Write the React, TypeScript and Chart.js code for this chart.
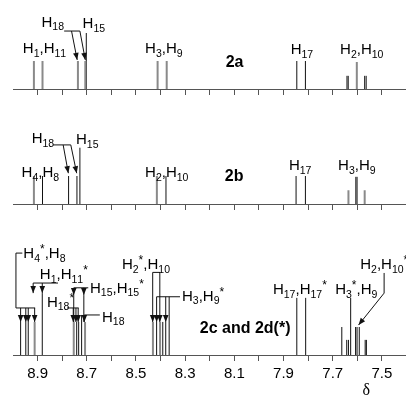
import React, { useEffect, useRef } from 'react';
import { Chart, registerables } from 'chart.js';

Chart.register(...registerables);

// ---- axis ----
const X_MIN = 7.402;
const X_MAX = 9.0;
const TICK_VALUES = [8.9, 8.8, 8.7, 8.6, 8.5, 8.4, 8.3, 8.2, 8.1, 8.0, 7.9, 7.8, 7.7, 7.6, 7.5];
const TICK_LABELS = ['8.9', '8.7', '8.5', '8.3', '8.1', '7.9', '7.7', '7.5'];
const AXIS_TITLE = 'δ';

// ---- spectrum 2a ----
const A_BLACK_PPM = [8.702, 7.846, 7.811, 7.642, 7.637, 7.570, 7.564];
const A_BLACK_INT = [2.0, 1.0, 1.0, 0.47, 0.47, 0.47, 0.47];
const A_GREY_PPM = [8.915, 8.880, 8.736, 8.706, 8.412, 8.375, 7.602];
const A_GREY_INT = [1.0, 1.0, 1.0, 1.0, 1.0, 1.0, 0.96];

// ---- spectrum 2b ----
const B_BLACK_PPM = [8.880, 8.774, 8.740, 8.728, 8.378, 7.849, 7.811, 7.606, 7.601];
const B_BLACK_INT = [1.0, 1.0, 1.0, 2.01, 1.0, 1.0, 1.0, 0.97, 0.97];
const B_GREY_PPM = [8.915, 8.415, 7.636, 7.570];
const B_GREY_INT = [1.0, 1.0, 0.49, 0.49];

// ---- spectrum 2c and 2d(*) ----
const C_BLACK_PPM = [8.969, 8.948, 8.938, 8.881, 8.741, 8.733, 8.721, 8.416, 8.391, 8.379, 8.365,
  7.846, 7.810, 7.663, 7.643, 7.636, 7.627, 7.607, 7.601, 7.592, 7.568, 7.563];
const C_BLACK_INT = [1.18, 1.18, 1.18, 2.21, 1.18, 1.18, 1.43, 1.18, 1.18, 1.18, 2.08,
  2.04, 2.04, 1.0, 0.54, 0.54, 2.04, 1.0, 1.0, 1.0, 0.54, 0.54];
const C_GREY_PPM = [8.912, 8.753, 8.707, 8.431, 8.402];
const C_GREY_INT = [1.18, 1.18, 1.18, 1.18, 1.18];

// ---- annotations (x in ppm, y in intensity units) ----
type Txt = { x: number; y: number; t: string; bold?: boolean; center?: boolean };
type Notes = { texts: Txt[]; lines: number[][]; arrows: number[][] };

const NOTES_A: Notes = {
  texts: [
    { x: 8.960, y: 1.27, t: 'H1,H11' },
    { x: 8.884, y: 2.23, t: 'H18' },
    { x: 8.717, y: 2.17, t: 'H15' },
    { x: 8.463, y: 1.27, t: 'H3,H9' },
    { x: 7.871, y: 1.25, t: 'H17' },
    { x: 7.670, y: 1.25, t: 'H2,H10' },
    { x: 8.099, y: 0.79, t: '2a', bold: true, center: true },
  ],
  lines: [[8.792, 2.07, 8.728, 2.07]],
  arrows: [[8.762, 2.07, 8.739, 1.04], [8.728, 2.07, 8.706, 1.04]],
};

const NOTES_B: Notes = {
  texts: [
    { x: 8.965, y: 0.95, t: 'H4,H8' },
    { x: 8.924, y: 2.17, t: 'H18' },
    { x: 8.744, y: 2.14, t: 'H15' },
    { x: 8.463, y: 0.95, t: 'H2,H10' },
    { x: 7.878, y: 1.21, t: 'H17' },
    { x: 7.678, y: 1.21, t: 'H3,H9' },
    { x: 8.101, y: 0.82, t: '2b', bold: true, center: true },
  ],
  lines: [[8.837, 2.11, 8.765, 2.11]],
  arrows: [[8.796, 2.11, 8.775, 1.10], [8.765, 2.11, 8.741, 1.10]],
};

const NOTES_C: Notes = {
  texts: [
    { x: 8.958, y: 3.46, t: 'H4*,H8' },
    { x: 8.891, y: 2.70, t: 'H1,H11*' },
    { x: 8.687, y: 2.23, t: 'H15,H15*' },
    { x: 8.862, y: 1.73, t: 'H18*' },
    { x: 8.638, y: 1.19, t: 'H18' },
    { x: 8.557, y: 3.07, t: 'H2*,H10' },
    { x: 8.313, y: 1.93, t: 'H3,H9*' },
    { x: 7.943, y: 2.17, t: 'H17,H17*' },
    { x: 7.690, y: 2.17, t: 'H3*,H9' },
    { x: 7.588, y: 3.06, t: 'H2,H10*' },
    { x: 8.056, y: 0.80, t: '2c and 2d(*)', bold: true, center: true },
  ],
  lines: [
    [8.988, 3.64, 8.962, 3.64],
    [8.988, 3.64, 8.988, 1.68],
    [8.988, 1.68, 8.910, 1.68],
    [8.918, 2.57, 8.817, 2.57],
    [8.753, 2.40, 8.694, 2.40],
    [8.753, 2.14, 8.753, 1.18],
    [8.712, 2.14, 8.712, 1.18],
    [8.780, 1.68, 8.733, 1.68],
    [8.647, 1.43, 8.710, 1.43],
    [8.432, 2.95, 8.403, 2.95],
    [8.416, 2.08, 8.321, 2.08],
    [7.491, 2.93, 7.491, 2.21],
  ],
  arrows: [
    [8.969, 1.68, 8.969, 1.18],
    [8.948, 1.68, 8.948, 1.18],
    [8.938, 1.68, 8.938, 1.18],
    [8.912, 1.68, 8.912, 1.18],
    [8.918, 2.57, 8.918, 2.21],
    [8.881, 2.57, 8.881, 2.21],
    [8.753, 2.40, 8.753, 2.14],
    [8.712, 2.40, 8.712, 2.14],
    [8.755, 1.68, 8.755, 1.18],
    [8.744, 1.68, 8.744, 1.18],
    [8.735, 1.68, 8.735, 1.18],
    [8.710, 1.43, 8.710, 1.18],
    [8.432, 2.95, 8.432, 1.18],
    [8.403, 2.95, 8.403, 1.18],
    [8.416, 2.08, 8.416, 1.18],
    [8.379, 2.08, 8.379, 1.18],
    [7.491, 2.21, 7.595, 1.07],
  ],
};

const SANS = '"Liberation Sans", Arial, sans-serif';

function segmentsOf(t: string) {
  const segs: { s: string; k: 'n' | 'sub' | 'sup' }[] = [];
  let inSub = false;
  for (const c of t) {
    if (c === 'H') { segs.push({ s: c, k: 'n' }); inSub = true; }
    else if (/\d/.test(c) && inSub) segs.push({ s: c, k: 'sub' });
    else if (c === '*') { segs.push({ s: c, k: 'sup' }); inSub = false; }
    else { segs.push({ s: c, k: 'n' }); inSub = false; }
  }
  return segs;
}

function drawRich(ctx: CanvasRenderingContext2D, t: string, x0: number, y0: number) {
  let x = x0;
  ctx.textAlign = 'left';
  ctx.textBaseline = 'alphabetic';
  for (const seg of segmentsOf(t)) {
    let dy = 0;
    if (seg.k === 'n') ctx.font = `15px ${SANS}`;
    else if (seg.k === 'sub') { ctx.font = `10.5px ${SANS}`; dy = 3.5; }
    else { ctx.font = `12px ${SANS}`; dy = -5; }
    ctx.fillText(seg.s, x, y0 + dy);
    x += ctx.measureText(seg.s).width;
  }
}

function notesPlugin(notes: Notes, withDelta: boolean) {
  return {
    id: 'notes',
    afterDraw(chart: any) {
      const { ctx } = chart;
      const sx = chart.scales.x;
      const sy = chart.scales.y;
      const px = (v: number) => sx.getPixelForValue(v);
      const py = (v: number) => sy.getPixelForValue(v);
      ctx.save();
      ctx.strokeStyle = '#111';
      ctx.fillStyle = '#111';
      ctx.lineWidth = 1;
      for (const l of notes.lines) {
        ctx.beginPath();
        ctx.moveTo(px(l[0]), py(l[1]));
        ctx.lineTo(px(l[2]), py(l[3]));
        ctx.stroke();
      }
      for (const a of notes.arrows) {
        const x1 = px(a[0]), y1 = py(a[1]), x2 = px(a[2]), y2 = py(a[3]);
        ctx.beginPath();
        ctx.moveTo(x1, y1);
        ctx.lineTo(x2, y2);
        ctx.stroke();
        const ang = Math.atan2(y2 - y1, x2 - x1);
        const L = 7, W = 2.8;
        const bx = x2 - L * Math.cos(ang), by = y2 - L * Math.sin(ang);
        ctx.beginPath();
        ctx.moveTo(x2, y2);
        ctx.lineTo(bx + W * Math.sin(ang), by - W * Math.cos(ang));
        ctx.lineTo(bx - W * Math.sin(ang), by + W * Math.cos(ang));
        ctx.closePath();
        ctx.fill();
      }
      ctx.fillStyle = '#000';
      for (const t of notes.texts) {
        if (t.bold) {
          ctx.font = `bold 16px ${SANS}`;
          ctx.textAlign = t.center ? 'center' : 'left';
          ctx.textBaseline = 'alphabetic';
          ctx.fillText(t.t, px(t.x), py(t.y));
        } else {
          drawRich(ctx, t.t, px(t.x), py(t.y));
        }
      }
      if (withDelta) {
        ctx.font = `16px "Liberation Serif", "Times New Roman", serif`;
        ctx.textAlign = 'center';
        ctx.textBaseline = 'alphabetic';
        ctx.fillText(AXIS_TITLE, px(7.564), py(-1.43));
      }
      ctx.restore();
    },
  };
}

function toSeries(ppm: number[], inten: number[]) {
  const out: { x: number; y: number | null }[] = [];
  ppm.forEach((p, i) => {
    out.push({ x: p, y: 0 }, { x: p, y: inten[i] }, { x: p, y: null });
  });
  return out;
}

type PanelCfg = {
  top: number; height: number; axisH: number; yMax: number;
  black: [number[], number[]]; grey: [number[], number[]];
  notes: Notes; labels: boolean;
};

const PANELS: PanelCfg[] = [
  { top: 0, height: 100, axisH: 11, yMax: 89 / 28, black: [A_BLACK_PPM, A_BLACK_INT], grey: [A_GREY_PPM, A_GREY_INT], notes: NOTES_A, labels: false },
  { top: 100, height: 115, axisH: 11, yMax: 104 / 28, black: [B_BLACK_PPM, B_BLACK_INT], grey: [B_GREY_PPM, B_GREY_INT], notes: NOTES_B, labels: false },
  { top: 215, height: 186, axisH: 46, yMax: 140 / 28, black: [C_BLACK_PPM, C_BLACK_INT], grey: [C_GREY_PPM, C_GREY_INT], notes: NOTES_C, labels: true },
];

function Panel({ cfg }: { cfg: PanelCfg }) {
  const ref = useRef<HTMLCanvasElement | null>(null);
  useEffect(() => {
    if (!ref.current) return;
    const chart = new Chart(ref.current, {
      type: 'line',
      data: {
        datasets: [
          {
            data: toSeries(cfg.grey[0], cfg.grey[1]) as any,
            borderColor: '#8a8a8a', borderWidth: 2, pointRadius: 0, spanGaps: false, fill: false,
          },
          {
            data: toSeries(cfg.black[0], cfg.black[1]) as any,
            borderColor: '#111', borderWidth: 1, pointRadius: 0, spanGaps: false, fill: false,
          },
        ],
      },
      options: {
        animation: false,
        responsive: false,
        devicePixelRatio: 1,
        layout: { padding: { left: 13, right: 0, top: 0, bottom: 0 } },
        plugins: { legend: { display: false }, tooltip: { enabled: false } },
        scales: {
          x: {
            type: 'linear',
            min: X_MIN,
            max: X_MAX,
            reverse: true,
            afterBuildTicks: (axis: any) => { axis.ticks = TICK_VALUES.map((v) => ({ value: v })); },
            afterFit: (axis: any) => { axis.height = cfg.axisH; },
            ticks: {
              display: cfg.labels,
              autoSkip: false,
              maxRotation: 0,
              padding: 4,
              color: '#000',
              font: { family: SANS, size: 15 },
              callback: (v: any) => {
                const s = Number(v).toFixed(1);
                return TICK_LABELS.includes(s) ? s : '';
              },
            },
            grid: { drawOnChartArea: false, drawTicks: true, tickLength: 6, color: '#555', lineWidth: 1 },
            border: { display: true, color: '#555', width: 1 },
          },
          y: { display: false, min: 0, max: cfg.yMax },
        },
      },
      plugins: [notesPlugin(cfg.notes, cfg.labels)],
    });
    return () => chart.destroy();
  }, []);
  return (
    <canvas
      ref={ref}
      width={406}
      height={cfg.height}
      style={{ position: 'absolute', left: 0, top: cfg.top, display: 'block' }}
    />
  );
}

export default function App() {
  return (
    <div style={{ position: 'fixed', left: 0, top: 0, width: 406, height: 401, background: '#fff', overflow: 'hidden' }}>
      {PANELS.map((p, i) => <Panel key={i} cfg={p} />)}
    </div>
  );
}
